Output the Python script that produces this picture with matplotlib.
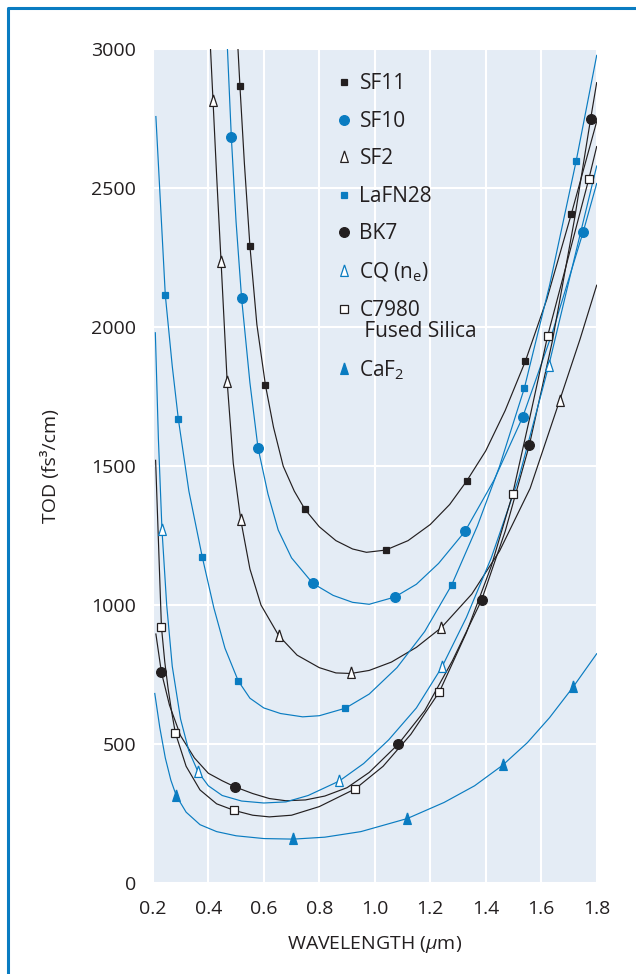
import matplotlib
matplotlib.use("Agg")
import matplotlib.pyplot as plt
from matplotlib.lines import Line2D
from matplotlib.legend_handler import HandlerLine2D

plt.rcParams['font.family'] = ['Open Sans', 'DejaVu Sans']
plt.rcParams['mathtext.fontset'] = 'custom'
plt.rcParams['mathtext.rm'] = 'Open Sans'
plt.rcParams['mathtext.it'] = 'Open Sans:italic'

BLUE = '#0a7cc1'
BLACK = '#231f20'
BG = '#e4ecf5'

# curves: wavelength (um) vs TOD (fs^3/cm)
sf11_x = [0.507, 0.514, 0.53, 0.55, 0.575, 0.606, 0.635, 0.67, 0.71, 0.748, 0.80, 0.86, 0.92, 0.97,
          1.039, 1.12, 1.2, 1.27, 1.331, 1.40, 1.47, 1.543, 1.62, 1.709, 1.8]
sf11_y = [3000, 2867, 2590, 2292, 2010, 1791, 1640, 1500, 1410, 1345, 1282, 1232, 1202, 1190,
          1198, 1232, 1290, 1362, 1446, 1555, 1700, 1878, 2100, 2409, 2740]
sf11_mx = [0.514, 0.55, 0.606, 0.748, 1.039, 1.331, 1.543, 1.709]
sf11_my = [2867, 2292, 1791, 1345, 1198, 1446, 1878, 2409]

sf10_x = [0.469, 0.483, 0.50, 0.52, 0.55, 0.579, 0.615, 0.652, 0.70, 0.777, 0.85, 0.92, 0.98,
          1.072, 1.15, 1.23, 1.325, 1.43, 1.533, 1.64, 1.751, 1.8]
sf10_y = [3000, 2683, 2380, 2104, 1800, 1567, 1400, 1270, 1170, 1078, 1035, 1010, 1003,
          1029, 1075, 1150, 1265, 1450, 1676, 1980, 2342, 2517]
sf10_mx = [0.483, 0.52, 0.579, 0.777, 1.072, 1.325, 1.533, 1.751]
sf10_my = [2683, 2104, 1567, 1078, 1029, 1265, 1676, 2342]

sf2_x = [0.408, 0.417, 0.43, 0.446, 0.468, 0.49, 0.517, 0.55, 0.59, 0.654, 0.72, 0.80, 0.86, 0.914,
         0.98, 1.06, 1.15, 1.24, 1.35, 1.45, 1.56, 1.666, 1.74, 1.8]
sf2_y = [3000, 2814, 2545, 2235, 1803, 1510, 1306, 1130, 1000, 890, 820, 775, 756, 754,
         765, 795, 848, 919, 1040, 1195, 1420, 1735, 1957, 2151]
sf2_mx = [0.417, 0.446, 0.468, 0.517, 0.654, 0.914, 1.24, 1.666]
sf2_my = [2814, 2235, 1803, 1306, 890, 754, 919, 1735]

lafn_x = [0.211, 0.245, 0.27, 0.292, 0.33, 0.378, 0.42, 0.46, 0.508, 0.55, 0.60, 0.66, 0.74, 0.80,
          0.894, 0.98, 1.08, 1.18, 1.277, 1.37, 1.45, 1.539, 1.63, 1.726, 1.8]
lafn_y = [2758, 2115, 1860, 1669, 1410, 1174, 990, 845, 727, 665, 630, 610, 598, 602,
          629, 680, 775, 905, 1072, 1285, 1500, 1780, 2150, 2598, 2978]
lafn_mx = [0.245, 0.292, 0.378, 0.508, 0.894, 1.277, 1.539, 1.726]
lafn_my = [2115, 1669, 1174, 727, 629, 1072, 1780, 2598]

bk7_x = [0.211, 0.231, 0.26, 0.30, 0.35, 0.40, 0.45, 0.496, 0.56, 0.62, 0.68, 0.75, 0.82, 0.90,
         0.98, 1.084, 1.18, 1.28, 1.385, 1.47, 1.557, 1.64, 1.72, 1.778, 1.8]
bk7_y = [896, 758, 640, 530, 450, 395, 368, 346, 322, 304, 296, 299, 313, 343,
         398, 499, 620, 800, 1018, 1265, 1575, 1949, 2389, 2749, 2880]
bk7_mx = [0.231, 0.496, 1.084, 1.385, 1.557, 1.778]
bk7_my = [758, 346, 499, 1018, 1575, 2749]

cq_x = [0.209, 0.22, 0.233, 0.25, 0.27, 0.30, 0.33, 0.363, 0.40, 0.45, 0.52, 0.60, 0.68, 0.76,
        0.872, 0.96, 1.05, 1.15, 1.242, 1.33, 1.42, 1.52, 1.627, 1.72, 1.8]
cq_y = [1980, 1600, 1270, 1000, 780, 590, 475, 400, 350, 315, 295, 288, 292, 315,
        367, 430, 515, 630, 777, 955, 1170, 1460, 1861, 2250, 2580]
cq_mx = [0.233, 0.363, 0.872, 1.242, 1.627]
cq_my = [1270, 400, 367, 777, 1861]

c7980_x = [0.21, 0.231, 0.243, 0.255, 0.268, 0.281, 0.32, 0.37, 0.43, 0.494, 0.56, 0.62, 0.70, 0.80,
           0.93, 1.03, 1.13, 1.233, 1.33, 1.42, 1.497, 1.56, 1.623, 1.70, 1.772, 1.8]
c7980_y = [1521, 922, 796, 700, 615, 541, 420, 335, 285, 261, 244, 238, 244, 275,
           339, 420, 535, 688, 900, 1140, 1400, 1680, 1968, 2260, 2535, 2650]
c7980_mx = [0.231, 0.281, 0.494, 0.93, 1.233, 1.497, 1.623, 1.772]
c7980_my = [922, 541, 261, 339, 688, 1400, 1968, 2535]

caf2_x = [0.207, 0.225, 0.245, 0.265, 0.285, 0.32, 0.37, 0.43, 0.50, 0.60, 0.707, 0.82, 0.95,
          1.117, 1.25, 1.36, 1.461, 1.55, 1.63, 1.714, 1.8]
caf2_y = [682, 560, 450, 370, 313, 255, 210, 185, 170, 160, 158, 165, 185,
          232, 290, 350, 424, 505, 595, 704, 825]
caf2_mx = [0.285, 0.707, 1.117, 1.461, 1.714]
caf2_my = [313, 158, 232, 424, 704]

names = ['SF11', 'SF10', 'SF2', 'LaFN28', 'BK7', 'CQ (n$_\\mathregular{e}$)',
         'C7980\n Fused Silica', 'CaF$_\\mathregular{2}$']
x_ticks = [0.2, 0.4, 0.6, 0.8, 1.0, 1.2, 1.4, 1.6, 1.8]
x_tick_labels = ['0.2', '0.4', '0.6', '0.8', '1.0', '1.2', '1.4', '1.6', '1.8']
y_ticks = [0, 500, 1000, 1500, 2000, 2500, 3000]

tri = [(0, 1), (-0.58, -0.75), (0.58, -0.75), (0, 1)]

series = [
    (sf11_x, sf11_y, sf11_mx, sf11_my, BLACK, 's', BLACK, BLACK, 5),
    (sf10_x, sf10_y, sf10_mx, sf10_my, BLUE, 'o', BLUE, BLUE, 7),
    (sf2_x, sf2_y, sf2_mx, sf2_my, BLACK, tri, 'white', BLACK, 9.5),
    (lafn_x, lafn_y, lafn_mx, lafn_my, BLUE, 's', BLUE, BLUE, 5),
    (bk7_x, bk7_y, bk7_mx, bk7_my, BLACK, 'o', BLACK, BLACK, 7),
    (cq_x, cq_y, cq_mx, cq_my, BLUE, tri, 'white', BLUE, 9.5),
    (c7980_x, c7980_y, c7980_mx, c7980_my, BLACK, 's', 'white', BLACK, 5.5),
    (caf2_x, caf2_y, caf2_mx, caf2_my, BLUE, tri, BLUE, BLUE, 9.5),
]


class RaisedHandler(HandlerLine2D):
    # keeps the marker level with the first line of a two-line label
    def create_artists(self, legend, orig_handle, xdescent, ydescent, width, height, fontsize, trans):
        arts = super().create_artists(legend, orig_handle, xdescent, ydescent, width, height, fontsize, trans)
        for a in arts:
            a.set_ydata([y + 9.5 for y in a.get_ydata()])
        return arts


fig = plt.figure(figsize=(6.36, 9.74), dpi=100)
ax = fig.add_axes([0.2403, 0.0934, 0.6979, 0.856])
ax.set_facecolor(BG)

handles = []
for (lx, ly, mx, my, col, mk, fc, ec, ms), name in zip(series, names):
    ax.plot(lx, ly, color=col, lw=0.85, zorder=2)
    ax.plot(mx, my, linestyle='none', marker=mk, markersize=ms, markerfacecolor=fc,
            markeredgecolor=ec, markeredgewidth=0.9, zorder=3)
    handles.append(Line2D([], [], linestyle='none', marker=mk, markersize=ms, markerfacecolor=fc,
                          markeredgecolor=ec, markeredgewidth=0.9, label=name))

ax.set_xlim(0.2, 1.8)
ax.set_ylim(0, 3000)
ax.set_xticks(x_ticks)
ax.set_xticklabels(x_tick_labels)
ax.set_yticks(y_ticks)
ax.grid(True, color='white', lw=1.5)
ax.set_axisbelow(True)
for s in ax.spines.values():
    s.set_visible(False)
ax.tick_params(length=0, labelsize=14, colors=BLACK, pad=12)

ax.set_xlabel('WAVELENGTH ($\\mu$m)', fontsize=14, color=BLACK)
ax.xaxis.set_label_coords(0.5, -0.061)
ax.set_ylabel('TOD (fs³/cm)', fontsize=14, color=BLACK)
ax.yaxis.set_label_coords(-0.209, 0.5)

leg = ax.legend(handles=handles, loc='upper left', bbox_to_anchor=(0.4116, 0.971),
                frameon=False, fontsize=15, handlelength=0.8, handletextpad=0.35,
                labelspacing=0.79, borderpad=0, borderaxespad=0, numpoints=1,
                handler_map={handles[6]: RaisedHandler()})
for t in leg.get_texts():
    t.set_color(BLACK)
    t.set_linespacing(0.95)

# blue page frame (left and top)
fig.add_artist(Line2D([0.0126, 0.0126, 1.0], [0.0, 0.9918, 0.9918], transform=fig.transFigure,
                      color='#0a7cc1', lw=2.2))

fig.savefig('out.png', dpi=100)
